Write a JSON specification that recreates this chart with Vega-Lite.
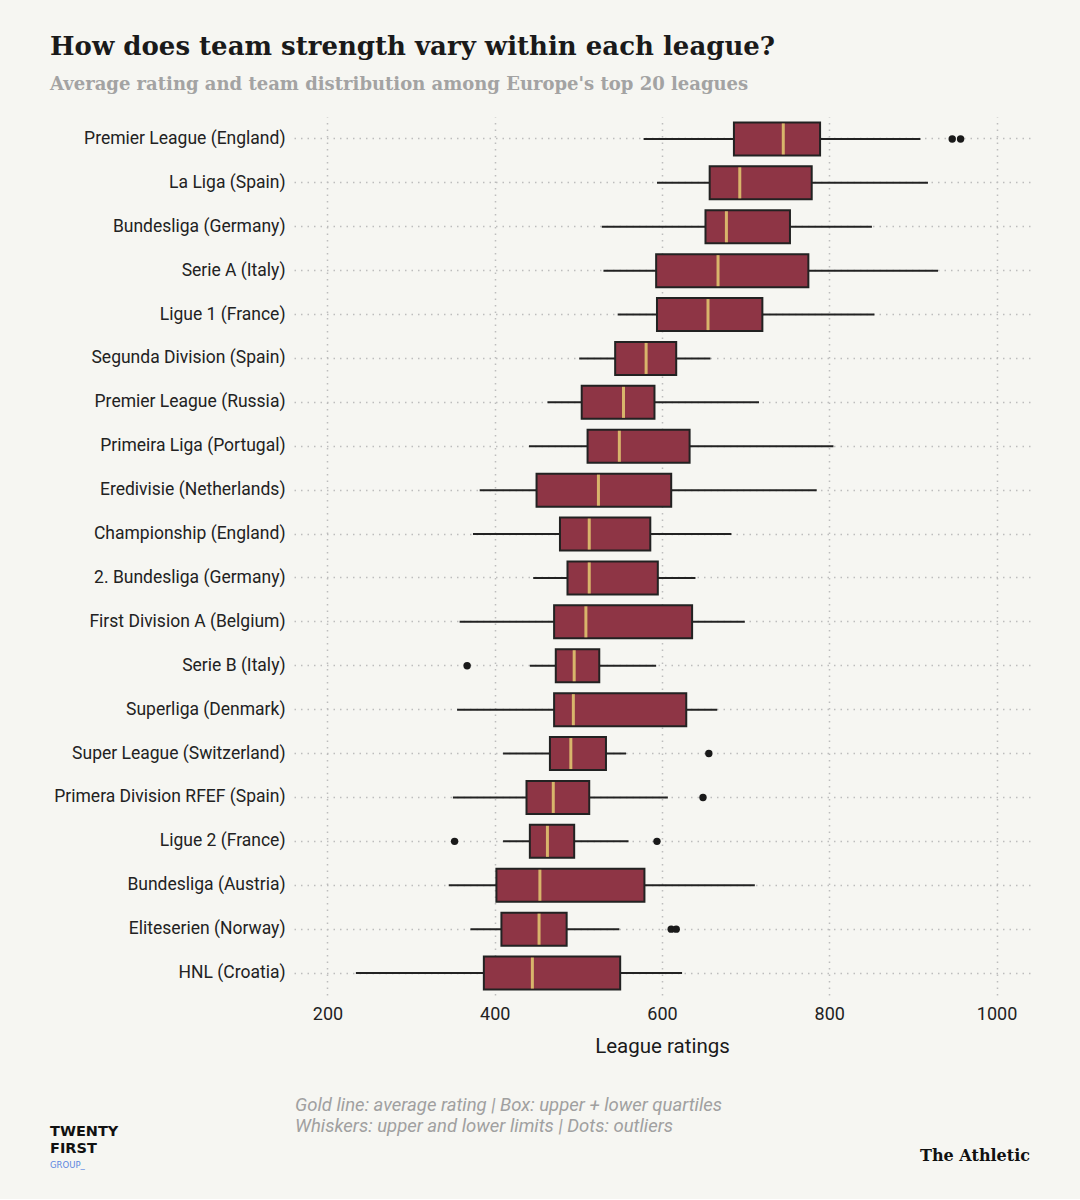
{
  "$schema": "https://vega.github.io/schema/vega-lite/v6.json",
  "background": "#f6f6f2",
  "padding": {"left": 50, "right": 50, "top": 34, "bottom": 30},
  "config": {"view": {"stroke": null}, "font": "Roboto", "concat": {"spacing": 38}},
  "title": {
    "text": "How does team strength vary within each league?",
    "subtitle": "Average rating and team distribution among Europe's top 20 leagues",
    "anchor": "start", "frame": "bounds",
    "font": "DejaVu Serif", "fontSize": 26, "fontWeight": "bold", "color": "#1a1a1a",
    "subtitleFont": "DejaVu Serif", "subtitleFontSize": 18, "subtitleFontWeight": "bold", "subtitleColor": "#a3a3a3",
    "subtitlePadding": 16, "offset": 23
  },
  "datasets": {
    "leagues": [
      {"league": "Premier League (England)", "min": 578, "q1": 686, "mean": 745, "q3": 789, "max": 909},
      {"league": "La Liga (Spain)", "min": 594, "q1": 657, "mean": 693, "q3": 779, "max": 918},
      {"league": "Bundesliga (Germany)", "min": 528, "q1": 652, "mean": 677, "q3": 753, "max": 851},
      {"league": "Serie A (Italy)", "min": 530, "q1": 593, "mean": 667, "q3": 775, "max": 930},
      {"league": "Ligue 1 (France)", "min": 547, "q1": 594, "mean": 655, "q3": 720, "max": 854},
      {"league": "Segunda Division (Spain)", "min": 501, "q1": 544, "mean": 581, "q3": 617, "max": 658},
      {"league": "Premier League (Russia)", "min": 463, "q1": 504, "mean": 554, "q3": 591, "max": 716},
      {"league": "Primeira Liga (Portugal)", "min": 441, "q1": 511, "mean": 549, "q3": 633, "max": 805},
      {"league": "Eredivisie (Netherlands)", "min": 382, "q1": 450, "mean": 524, "q3": 611, "max": 785},
      {"league": "Championship (England)", "min": 374, "q1": 478, "mean": 513, "q3": 586, "max": 683},
      {"league": "2. Bundesliga (Germany)", "min": 446, "q1": 487, "mean": 513, "q3": 595, "max": 640},
      {"league": "First Division A (Belgium)", "min": 358, "q1": 471, "mean": 509, "q3": 636, "max": 699},
      {"league": "Serie B (Italy)", "min": 442, "q1": 473, "mean": 495, "q3": 525, "max": 593},
      {"league": "Superliga (Denmark)", "min": 355, "q1": 471, "mean": 494, "q3": 629, "max": 666},
      {"league": "Super League (Switzerland)", "min": 410, "q1": 466, "mean": 491, "q3": 533, "max": 557},
      {"league": "Primera Division RFEF (Spain)", "min": 350, "q1": 438, "mean": 470, "q3": 513, "max": 607},
      {"league": "Ligue 2 (France)", "min": 410, "q1": 442, "mean": 463, "q3": 495, "max": 560},
      {"league": "Bundesliga (Austria)", "min": 345, "q1": 402, "mean": 454, "q3": 579, "max": 711},
      {"league": "Eliteserien (Norway)", "min": 371, "q1": 408, "mean": 453, "q3": 486, "max": 549},
      {"league": "HNL (Croatia)", "min": 234, "q1": 387, "mean": 445, "q3": 550, "max": 624}
    ],
    "outliers": [
      {"league": "Premier League (England)", "value": 947},
      {"league": "Premier League (England)", "value": 957},
      {"league": "Serie B (Italy)", "value": 367},
      {"league": "Super League (Switzerland)", "value": 656},
      {"league": "Primera Division RFEF (Spain)", "value": 649},
      {"league": "Ligue 2 (France)", "value": 352},
      {"league": "Ligue 2 (France)", "value": 594},
      {"league": "Eliteserien (Norway)", "value": 611},
      {"league": "Eliteserien (Norway)", "value": 617}
    ]
  },
  "vconcat": [
    {
      "width": 736,
      "height": 878,
      "layer": [
        {
          "data": {"name": "leagues"},
          "mark": {"type": "rule", "color": "#222222", "strokeWidth": 2},
          "encoding": {
            "y": {"field": "league", "type": "nominal",
              "sort": ["Premier League (England)", "La Liga (Spain)", "Bundesliga (Germany)", "Serie A (Italy)", "Ligue 1 (France)", "Segunda Division (Spain)", "Premier League (Russia)", "Primeira Liga (Portugal)", "Eredivisie (Netherlands)", "Championship (England)", "2. Bundesliga (Germany)", "First Division A (Belgium)", "Serie B (Italy)", "Superliga (Denmark)", "Super League (Switzerland)", "Primera Division RFEF (Spain)", "Ligue 2 (France)", "Bundesliga (Austria)", "Eliteserien (Norway)", "HNL (Croatia)"],
              "scale": {"paddingInner": 0, "paddingOuter": 0},
              "axis": {"title": null, "domain": false, "ticks": false, "labelFontSize": 17.5, "labelColor": "#222222", "labelPadding": 9, "labelLimit": 300,
                "minExtent": 244, "maxExtent": 244,
                "grid": true, "bandPosition": 0.5, "gridDash": [1.5, 5], "gridColor": "#bdbdbd", "gridWidth": 1.5}
            },
            "x": {"field": "min", "type": "quantitative",
              "scale": {"domain": [160, 1040], "nice": false, "zero": false},
              "axis": {"values": [200, 400, 600, 800, 1000], "format": "d", "grid": true, "gridDash": [1.5, 5], "gridColor": "#bdbdbd", "gridWidth": 1.5,
                "domain": false, "ticks": false, "labelFontSize": 18, "labelColor": "#222222", "labelPadding": 10,
                "title": "League ratings", "titleFontSize": 20.5, "titleFontWeight": "normal", "titleColor": "#1a1a1a", "titlePadding": 13}
            },
            "x2": {"field": "max"}
          }
        },
        {
          "data": {"name": "leagues"},
          "mark": {"type": "bar", "fill": "#8e3545", "stroke": "#222222", "strokeWidth": 2, "size": 33},
          "encoding": {
            "y": {"field": "league", "type": "nominal",
              "sort": ["Premier League (England)", "La Liga (Spain)", "Bundesliga (Germany)", "Serie A (Italy)", "Ligue 1 (France)", "Segunda Division (Spain)", "Premier League (Russia)", "Primeira Liga (Portugal)", "Eredivisie (Netherlands)", "Championship (England)", "2. Bundesliga (Germany)", "First Division A (Belgium)", "Serie B (Italy)", "Superliga (Denmark)", "Super League (Switzerland)", "Primera Division RFEF (Spain)", "Ligue 2 (France)", "Bundesliga (Austria)", "Eliteserien (Norway)", "HNL (Croatia)"]},
            "x": {"field": "q1", "type": "quantitative"},
            "x2": {"field": "q3"}
          }
        },
        {
          "data": {"name": "leagues"},
          "mark": {"type": "tick", "color": "#d8b56b", "thickness": 3, "size": 31, "opacity": 1},
          "encoding": {
            "y": {"field": "league", "type": "nominal",
              "sort": ["Premier League (England)", "La Liga (Spain)", "Bundesliga (Germany)", "Serie A (Italy)", "Ligue 1 (France)", "Segunda Division (Spain)", "Premier League (Russia)", "Primeira Liga (Portugal)", "Eredivisie (Netherlands)", "Championship (England)", "2. Bundesliga (Germany)", "First Division A (Belgium)", "Serie B (Italy)", "Superliga (Denmark)", "Super League (Switzerland)", "Primera Division RFEF (Spain)", "Ligue 2 (France)", "Bundesliga (Austria)", "Eliteserien (Norway)", "HNL (Croatia)"]},
            "x": {"field": "mean", "type": "quantitative"}
          }
        },
        {
          "data": {"name": "outliers"},
          "mark": {"type": "circle", "color": "#1a1a1a", "size": 55, "opacity": 1},
          "encoding": {
            "y": {"field": "league", "type": "nominal",
              "sort": ["Premier League (England)", "La Liga (Spain)", "Bundesliga (Germany)", "Serie A (Italy)", "Ligue 1 (France)", "Segunda Division (Spain)", "Premier League (Russia)", "Primeira Liga (Portugal)", "Eredivisie (Netherlands)", "Championship (England)", "2. Bundesliga (Germany)", "First Division A (Belgium)", "Serie B (Italy)", "Superliga (Denmark)", "Super League (Switzerland)", "Primera Division RFEF (Spain)", "Ligue 2 (France)", "Bundesliga (Austria)", "Eliteserien (Norway)", "HNL (Croatia)"]},
            "x": {"field": "value", "type": "quantitative"}
          }
        }
      ]
    },
    {
      "hconcat": [
        {
          "width": 1, "height": 1,
          "data": {"values": []},
          "mark": "point",
          "title": {"text": ["TWENTY", "FIRST"], "subtitle": "GROUP_", "anchor": "start", "frame": "group",
            "font": "DejaVu Sans", "fontSize": 14.5, "fontWeight": "bold", "color": "#111111", "lineHeight": 17,
            "subtitleFont": "DejaVu Sans", "subtitleFontSize": 8.5, "subtitleColor": "#5b86e0", "subtitlePadding": 4, "dy": 35, "dx": -244}
        },
        {
          "width": 539, "height": 1,
          "data": {"values": []},
          "mark": "point",
          "title": {"text": ["Gold line: average rating | Box: upper + lower quartiles", "Whiskers: upper and lower limits | Dots: outliers"],
            "anchor": "start", "frame": "group", "font": "Roboto", "fontSize": 18.5, "fontStyle": "italic", "fontWeight": "normal",
            "color": "#a0a0a0", "lineHeight": 21}
        },
        {
          "width": 196, "height": 1,
          "data": {"values": []},
          "mark": "point",
          "title": {"text": "The Athletic", "anchor": "end", "frame": "group", "font": "DejaVu Serif", "fontSize": 16, "fontWeight": "bold",
            "color": "#111111", "dy": 29}
        }
      ],
      "spacing": 0
    }
  ]
}
